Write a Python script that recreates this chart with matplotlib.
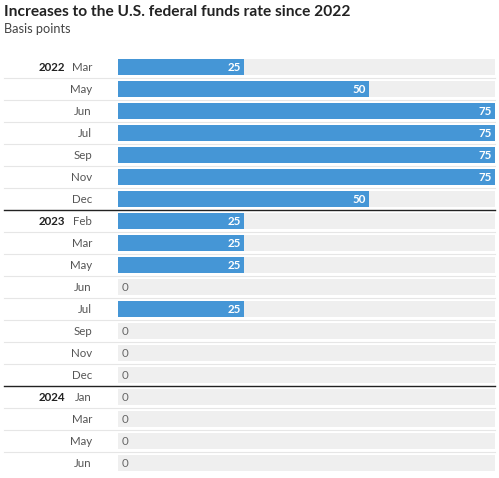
import matplotlib
matplotlib.use("Agg")
import matplotlib.pyplot as plt

plt.rcParams['font.family'] = ['Lato', 'DejaVu Sans']

years = ["2022", "", "", "", "", "", "", "2023", "", "", "", "", "", "", "", "2024", "", "", ""]
months = ["Mar", "May", "Jun", "Jul", "Sep", "Nov", "Dec",
          "Feb", "Mar", "May", "Jun", "Jul", "Sep", "Nov", "Dec",
          "Jan", "Mar", "May", "Jun"]
values = [25, 50, 75, 75, 75, 75, 50,
          25, 25, 25, 0, 25, 0, 0, 0,
          0, 0, 0, 0]
max_value = 75

W, H = 499, 478
fig = plt.figure(figsize=(W / 100, H / 100), dpi=100)

left_px, right_px = 118, 495
top_px, bottom_px = 56, 474
ax = fig.add_axes([left_px / W, 1 - bottom_px / H, (right_px - left_px) / W, (bottom_px - top_px) / H])
n = len(values)
ax.set_xlim(0, max_value)
ax.set_ylim(n - 0.5, -0.5)
ax.axis('off')

blue = '#4596d6'
grey = '#efefef'
bar_h = 16 / 22

ypos = list(range(n))
ax.barh(ypos, [max_value] * n, height=bar_h, color=grey, zorder=1)
ax.barh(ypos, values, height=bar_h, color=blue, zorder=2)

trans = ax.get_yaxis_transform()
year_x = (65 - left_px) / (right_px - left_px)
month_x = (92 - left_px) / (right_px - left_px)
line_x0 = (4 - left_px) / (right_px - left_px)

for i, (yr, mo, v) in enumerate(zip(years, months, values)):
    if yr:
        ax.text(year_x, i, yr, transform=trans, ha='right', va='center',
                fontsize=8.3, fontweight='bold', color='#222222', clip_on=False)
    ax.text(month_x, i, mo, transform=trans, ha='right', va='center',
            fontsize=8.3, color='#555555', clip_on=False)
    if v > 0:
        ax.text(v - 0.6, i, str(v), ha='right', va='center', fontsize=8.3,
                fontweight='bold', color='white', zorder=3)
    else:
        ax.text(0.8, i, str(v), ha='left', va='center', fontsize=8.3,
                color='#666666', zorder=3)
    if i > 0:
        if yr:
            ax.plot([line_x0, 1], [i - 0.5, i - 0.5], transform=trans,
                    color='#222222', lw=1.0, clip_on=False, zorder=4)
        else:
            ax.plot([line_x0, 1], [i - 0.5, i - 0.5], transform=trans,
                    color='#e6e6e6', lw=0.8, clip_on=False, zorder=0)

fig.text(4 / W, 1 - 12 / H, "Increases to the U.S. federal funds rate since 2022",
         ha='left', va='center', fontsize=11.2, fontweight='bold', color='#222222')
fig.text(4 / W, 1 - 29 / H, "Basis points", ha='left', va='center',
         fontsize=9.2, color='#444444')

fig.savefig("out.png", dpi=100)
